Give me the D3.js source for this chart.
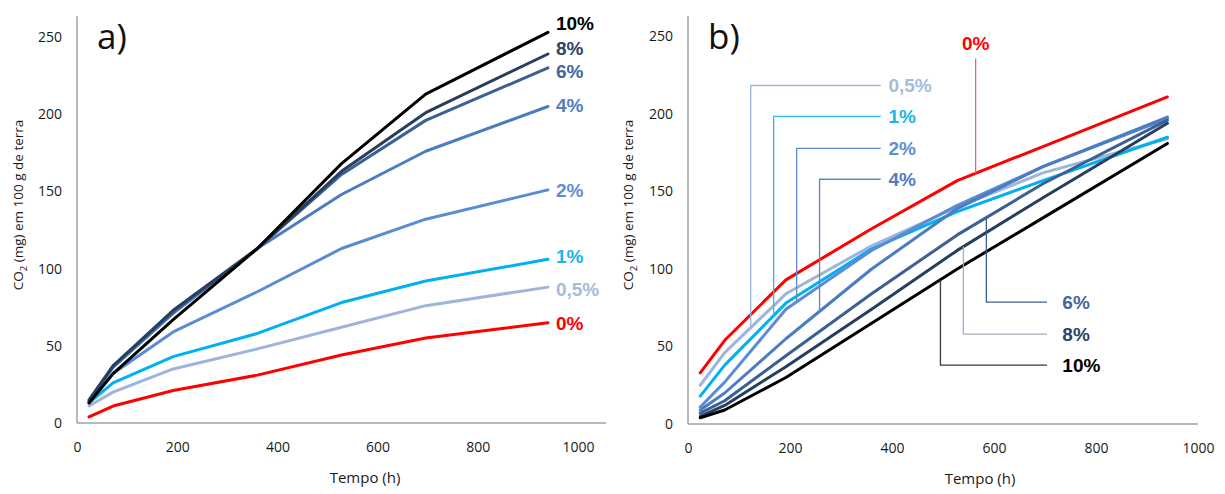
<!DOCTYPE html>
<html><head><meta charset="utf-8">
<script src="https://cdn.jsdelivr.net/npm/d3@7"></script>
<style>body{margin:0;background:#fff} svg{display:block}</style>
</head><body><svg id="c" width="1225" height="494"></svg>
<script>
// ---------- data ----------
const hours = [24, 72, 192, 360, 528, 696, 940];
const seriesNames = ["0%", "0,5%", "1%", "2%", "4%", "6%", "8%", "10%"];
const xTicks = [0, 200, 400, 600, 800, 1000];
const yTicks = [0, 50, 100, 150, 200, 250];

// panel a)
const a0  = [4, 11, 21, 31, 44, 55, 65];
const a05 = [11, 20, 35, 48, 62, 76, 88];
const a1  = [13, 26, 43, 58, 78, 92, 106];
const a2  = [13, 32, 59, 85, 113, 132, 151];
const a4  = [14, 36, 71, 113, 148, 176, 205];
const a6  = [14, 37, 72, 113, 161, 196, 230];
const a8  = [15, 37, 73, 113, 163, 201, 239];
const a10 = [13, 32, 67, 113, 168, 213, 253];
const aLabelValues = [64.5, 87, 108, 151, 206, 228, 243, 259];

// panel b)
const b0  = [33, 54, 93, 126, 157, 179, 211];
const b05 = [25, 46, 84, 115, 140, 162, 184];
const b1  = [18, 38, 78, 113, 137, 157, 185];
const b2  = [11, 27, 74, 112, 141, 166, 197];
const b4  = [9, 20, 55, 100, 139, 166, 198];
const b6  = [7, 15, 44, 84, 122, 155, 196];
const b8  = [5, 12, 37, 74, 112, 146, 194];
const b10 = [4, 9, 30, 65, 100, 133, 181];
const bLeaderHours = [564, 123, 168, 213, 258, 585, 540, 495];
const bLabelValues = [245.5, 218.4, 198.5, 177.8, 157.9, 78.6, 58, 38];

// ---------- styles ----------
const lineColors  = ["#FF0000", "#9DB5DA", "#00B0F0", "#5A8CD6", "#4A7CC2", "#3B6093", "#263F5E", "#000000"];
const labelColors = ["#FF0000", "#A6BBDB", "#1CB4EC", "#5B8ED8", "#4F7EC2", "#41679E", "#2B4468", "#000000"];
const leaderColors = ["#E8656D", "#9DB5DA", "#27BDF0", "#5A8CD6", "#5A86C6", "#3B6093", "#A2AEBF", "#3A3A3A"];

const svg = d3.select("#c");
const tickFont = "'Open Sans', sans-serif";
const labFont = "'Liberation Sans', Arial, sans-serif";

function interp(vals, t) {
  for (let i = 0; i < hours.length - 1; i++) {
    if (t >= hours[i] && t <= hours[i + 1]) {
      const f = (t - hours[i]) / (hours[i + 1] - hours[i]);
      return vals[i] + f * (vals[i + 1] - vals[i]);
    }
  }
  return vals[vals.length - 1];
}

function panel(cfg) {
  const g = svg.append("g");
  const x = d3.scaleLinear().domain([0, 1000]).range([cfg.x0, cfg.x1]);
  const y = d3.scaleLinear().domain([0, 250]).range([cfg.y0, cfg.y250]);

  const ya = g.append("g").attr("transform", `translate(${cfg.x0},0)`)
    .call(d3.axisLeft(y).tickValues(yTicks).tickFormat(d3.format("d")).tickSize(0).tickPadding(15));
  const xa = g.append("g").attr("transform", `translate(0,${cfg.y0})`)
    .call(d3.axisBottom(x).tickValues(xTicks).tickFormat(d3.format("d")).tickSize(0).tickPadding(19));
  [ya, xa].forEach(a => {
    a.select(".domain").remove();
    a.selectAll("text").attr("font-family", tickFont).attr("font-size", 14).attr("fill", "#1a1a1a");
  });

  g.append("line").attr("x1", cfg.x0).attr("x2", cfg.x0)
    .attr("y1", y(cfg.yTop)).attr("y2", cfg.y0)
    .attr("stroke", "#A0A0A0").attr("stroke-width", 1.5);
  g.append("line").attr("x1", cfg.x0).attr("x2", x(cfg.xEnd))
    .attr("y1", cfg.y0).attr("y2", cfg.y0)
    .attr("stroke", "#A0A0A0").attr("stroke-width", 1.5);

  g.append("text").attr("x", cfg.tempoX).attr("y", cfg.y0 + 60)
    .attr("text-anchor", "middle").attr("font-family", tickFont).attr("font-size", 15)
    .attr("fill", "#1a1a1a").text("Tempo (h)");
  const yl = g.append("text")
    .attr("transform", `translate(${cfg.ylabX},${cfg.ylabY}) rotate(-90)`)
    .attr("text-anchor", "middle").attr("font-family", tickFont).attr("font-size", 13.5)
    .attr("fill", "#1a1a1a");
  yl.append("tspan").text("CO");
  yl.append("tspan").attr("font-size", 9.5).attr("dy", 4).text("2");
  yl.append("tspan").attr("dy", -4).text(" (mg) em 100 g de terra");

  g.append("text").attr("x", cfg.x0 + 20).attr("y", 49)
    .attr("font-family", tickFont).attr("font-size", 35).attr("fill", "#111")
    .text(cfg.letter);

  const line = d3.line().x((d, i) => x(hours[i])).y(d => y(d));
  cfg.data.forEach((vals, k) => {
    g.append("path").attr("d", line(vals)).attr("fill", "none")
      .attr("stroke", lineColors[k]).attr("stroke-width", 3)
      .attr("stroke-linejoin", "round").attr("stroke-linecap", "round");
  });
  return { g, x, y };
}

// ---------- panel a ----------
const dataA = [a0, a05, a1, a2, a4, a6, a8, a10];
const pa = panel({ x0: 77, x1: 578, y0: 423, y250: 37, yTop: 263.5, xEnd: 1056,
  tempoX: 365, ylabX: 23, ylabY: 205, letter: "a)", data: dataA });
seriesNames.forEach((nm, k) => {
  pa.g.append("text").attr("x", pa.x(956)).attr("y", pa.y(aLabelValues[k]))
    .attr("dy", "0.36em").attr("font-family", labFont).attr("font-weight", "bold")
    .attr("font-size", 19).attr("fill", labelColors[k]).text(nm);
});

// ---------- panel b ----------
const dataB = [b0, b05, b1, b2, b4, b6, b8, b10];
const pb = panel({ x0: 688, x1: 1198, y0: 424, y250: 36.5, yTop: 263, xEnd: 1000,
  tempoX: 980, ylabX: 633, ylabY: 205, letter: "b)", data: dataB });
seriesNames.forEach((nm, k) => {
  const tL = bLeaderHours[k];
  const vLine = interp(dataB[k], tL);
  const xL = pb.x(tL), yOn = pb.y(vLine), yLab = pb.y(bLabelValues[k]);
  const lg = pb.g.append("g").attr("stroke", leaderColors[k]).attr("stroke-width", 1.3).attr("fill", "none");
  let tx, anchor = "start";
  if (k === 0) {
    lg.append("line").attr("x1", xL).attr("x2", xL).attr("y1", yLab + 15).attr("y2", yOn);
    tx = xL; anchor = "middle";
  } else if (k <= 4) {
    lg.append("polyline").attr("points", `${xL},${yOn} ${xL},${yLab} ${pb.x(378)},${yLab}`);
    tx = pb.x(393);
  } else {
    lg.append("polyline").attr("points", `${xL},${yOn} ${xL},${yLab} ${pb.x(704)},${yLab}`);
    tx = pb.x(734);
  }
  pb.g.append("text").attr("x", tx).attr("y", yLab).attr("dy", "0.36em")
    .attr("text-anchor", anchor).attr("font-family", labFont).attr("font-weight", "bold")
    .attr("font-size", 19).attr("fill", labelColors[k]).text(nm);
});
</script></body></html>
